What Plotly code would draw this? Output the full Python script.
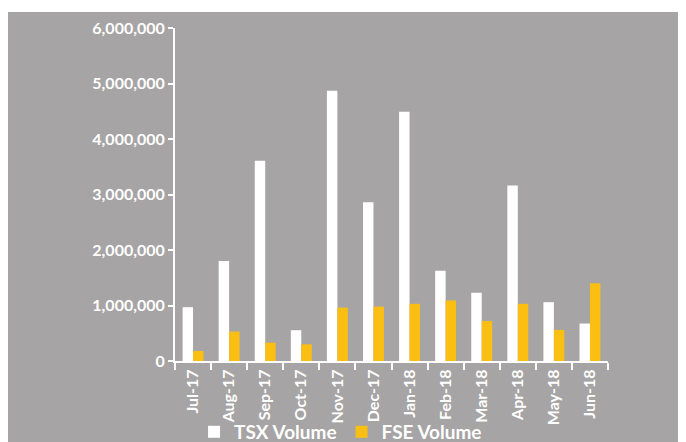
import plotly.graph_objects as go

months = ["Jul-17", "Aug-17", "Sep-17", "Oct-17", "Nov-17", "Dec-17",
          "Jan-18", "Feb-18", "Mar-18", "Apr-18", "May-18", "Jun-18"]
tsx_volume = [970000, 1800000, 3610000, 555000, 4870000, 2860000,
              4490000, 1625000, 1230000, 3160000, 1060000, 675000]
fse_volume = [180000, 530000, 330000, 300000, 962000, 980000,
              1030000, 1090000, 720000, 1030000, 560000, 1400000]

GRAY = "#a6a4a4"
YELLOW = "#fbbf13"
FONT = "Lato"

fig = go.Figure()
fig.add_trace(go.Bar(x=months, y=tsx_volume, name="TSX Volume",
                     marker=dict(color="white", line=dict(width=0))))
fig.add_trace(go.Bar(x=months, y=fse_volume, name="FSE Volume",
                     marker=dict(color=YELLOW, line=dict(width=0))))

# gray panel, leaving a thin white strip at the top
fig.add_shape(type="rect", xref="paper", yref="paper",
              x0=-0.5, x1=1.3, y0=-0.3, y1=1.048,
              fillcolor=GRAY, line=dict(width=0), layer="below")

fig.update_layout(
    width=678, height=434,
    margin=dict(l=167, r=78, t=20, b=81, autoexpand=False),
    paper_bgcolor="white",
    plot_bgcolor=GRAY,
    barmode="group",
    bargap=0.42,
    bargroupgap=0,
    font=dict(family=FONT, color="white"),
    xaxis=dict(
        showline=True, linecolor="white", linewidth=2,
        ticks="outside", tickson="boundaries", ticklen=7,
        tickcolor="white", tickwidth=2,
        tickangle=-90, tickfont=dict(size=16, weight="bold", color="white"),
        showgrid=False, automargin=False,
    ),
    yaxis=dict(
        range=[0, 6000000], dtick=1000000, tickformat=",",
        showline=True, linecolor="white", linewidth=2,
        ticks="outside", ticklen=5, tickcolor="white", tickwidth=2,
        tickfont=dict(size=16, weight="bold", color="white"),
        showgrid=False, zeroline=False, automargin=False,
    ),
    legend=dict(
        orientation="h", xref="paper", yref="paper",
        x=0.044, xanchor="left", y=-0.213, yanchor="middle",
        font=dict(size=19, weight="bold", color="white"),
        bgcolor="rgba(0,0,0,0)", itemwidth=30,
    ),
    showlegend=True,
)

fig.write_html("out.html")
